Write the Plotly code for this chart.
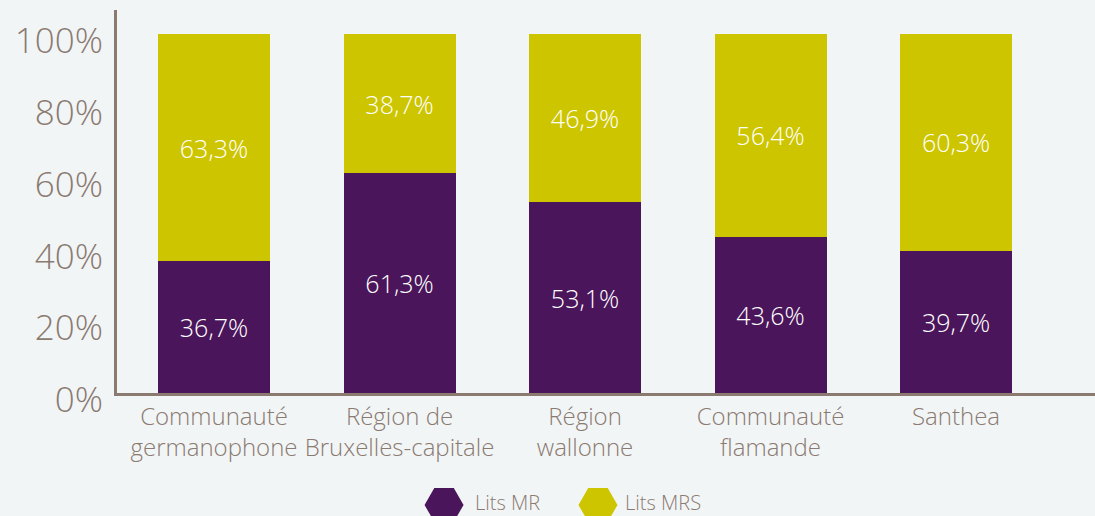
import plotly.graph_objects as go

categories = ["Communauté<br>germanophone", "Région de<br>Bruxelles-capitale",
              "Région<br>wallonne", "Communauté<br>flamande", "Santhea"]
lits_mr = [36.7, 61.3, 53.1, 43.6, 39.7]
lits_mrs = [63.3, 38.7, 46.9, 56.4, 60.3]
series_names = ["Lits MR", "Lits MRS"]
y_ticks = [0, 20, 40, 60, 80, 100]

C_MR = "#4a155a"
C_MRS = "#cdc500"
C_TXT = "#8a7a70"
FONT = "Open Sans"


def fmt(v):
    return f"{v:.1f}%".replace(".", ",")


fig = go.Figure()
for name, vals, col in [(series_names[0], lits_mr, C_MR), (series_names[1], lits_mrs, C_MRS)]:
    fig.add_trace(go.Bar(
        x=categories, y=vals, name=name, marker=dict(color=col, line=dict(width=0)),
        width=0.604, text=[fmt(v) for v in vals], textposition="inside",
        insidetextanchor="middle", textangle=0, constraintext="none",
        textfont=dict(color="white", size=25, family=FONT, weight=300),
        showlegend=False, hoverinfo="skip",
    ))

# legend drawn as hexagons + labels
hexpath = "M -19.5 0 L -9.75 16.9 L 9.75 16.9 L 19.5 0 L 9.75 -16.9 L -9.75 -16.9 Z"
leg_y = -0.2924
shapes = []
annotations = []
for name, col, xc, xt in [(series_names[0], C_MR, 0.3344, 0.364), (series_names[1], C_MRS, 0.4918, 0.5174)]:
    shapes.append(dict(type="path", xref="paper", yref="paper", xsizemode="pixel", ysizemode="pixel",
                       xanchor=xc, yanchor=leg_y, path=hexpath, fillcolor=col, line=dict(width=0)))
    annotations.append(dict(text=name, xref="paper", yref="paper", x=xt, y=-0.2872, xanchor="left",
                            yanchor="middle", showarrow=False,
                            font=dict(size=20, color=C_TXT, family=FONT, weight=300)))

fig.update_layout(
    barmode="stack",
    width=1095, height=516,
    margin=dict(l=117, r=0, t=10, b=123),
    paper_bgcolor="#f2f5f6",
    plot_bgcolor="rgba(0,0,0,0)",
    hovermode=False,
    shapes=shapes,
    annotations=annotations,
    xaxis=dict(range=[-0.523, 4.749], showline=True, linewidth=3, linecolor=C_TXT,
               showgrid=False, zeroline=False, ticks="", ticklabelstandoff=0,
               tickfont=dict(size=24, color=C_TXT, family=FONT, weight=300)),
    yaxis=dict(range=[0, 106.7], showline=True, linewidth=3, linecolor=C_TXT,
               showgrid=False, zeroline=False, ticks="", tickvals=y_ticks,
               ticktext=[f"{t}%" for t in y_ticks], ticklabelstandoff=4, ticklabelshift=7,
               tickfont=dict(size=35, color=C_TXT, family=FONT, weight=300)),
)

fig.write_html("out.html", config={"displayModeBar": False},
               post_script="document.body.style.margin='0';document.body.style.background='#f2f5f6';")
